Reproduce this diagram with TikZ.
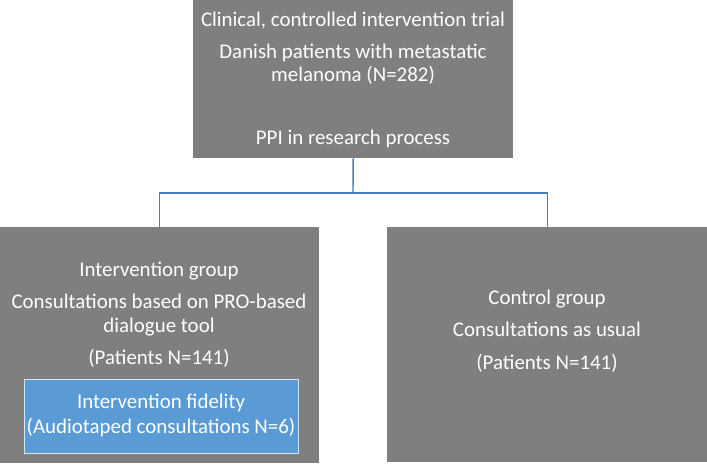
\documentclass[tikz,border=0pt]{standalone}
\usepackage{fontspec}
\setmainfont{Carlito}
\usetikzlibrary{positioning}
\definecolor{boxgray}{HTML}{7F7F7F}
\definecolor{fidblue}{HTML}{5B9BD5}
\definecolor{linkblue}{HTML}{4A7EBB}

\begin{document}
\begin{tikzpicture}[x=1pt,y=-1pt,
    graybox/.style={fill=boxgray, draw=none, inner sep=0pt, anchor=north west},
    fidbox/.style={fill=fidblue, draw=white!75!fidblue, line width=.8pt, inner sep=0pt, anchor=north west},
    txt/.style={text=white, inner sep=0pt, text height=15pt, text depth=2pt,
                font=\fontsize{20.9}{24}\selectfont},
    link/.style={draw=linkblue, line width=1.4pt}]
    \useasboundingbox (0,0) rectangle (707,465);
%    boxes
    \node[graybox, minimum width=320pt, minimum height=158pt] (trial) at (193,0) {};
    \node[graybox, minimum width=319pt, minimum height=236pt] (intv) at (0,227) {};
    \node[graybox, minimum width=320pt, minimum height=235pt] (ctrl) at (387,227) {};
    \node[fidbox, minimum width=274pt, minimum height=74pt] (fid) at (24,379) {};
%    top box text
    \node[txt] (trialA) at (353,20) {Clinical, controlled intervention trial};
    \node[txt] (trialB) at (353,52) {Danish patients with metastatic};
    \node[txt] (trialC) at (353,75) {melanoma (N=282)};
    \node[txt] (trialD) at (353,138) {PPI in research process};
%    intervention group
    \node[txt] (intvA) at (159,270) {Intervention group};
    \node[txt] (intvB) at (159,302) {Consultations based on PRO-based};
    \node[txt] (intvC) at (159,326) {dialogue tool};
    \node[txt] (intvD) at (159,358) {(Patients N=141)};
    \node[txt] (fidA) at (161,402) {Intervention fidelity};
    \node[txt] (fidB) at (161,427) {(Audiotaped consultations N=6)};
%    control group
    \node[txt] (ctrlA) at (547,298) {Control group};
    \node[txt] (ctrlB) at (547,330) {Consultations as usual};
    \node[txt] (ctrlC) at (547,363) {(Patients N=141)};
%    connectors
    \coordinate (split) at (353,193);
    \draw[link] (trial.south) -- (split);
    \draw[link] (split) -| (intv.north);
    \draw[link] (split) -| (ctrl.north);
\end{tikzpicture}
\end{document}
